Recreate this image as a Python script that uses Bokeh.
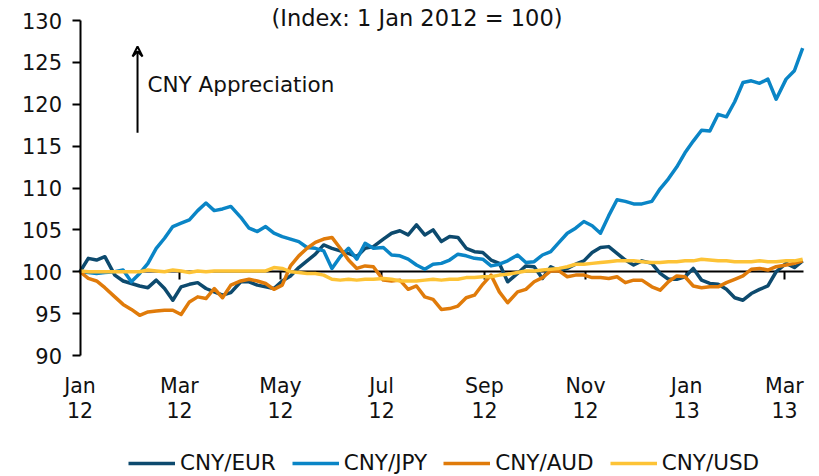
import pandas as pd
from bokeh.plotting import figure
from bokeh.models import (DatetimeAxis, LinearAxis, FixedTicker, Legend, LegendItem, Label,
                          Arrow, VeeHead, Range1d)
from bokeh.embed import file_html
from bokeh.resources import INLINE

dates = [
    "2012-01-01", "2012-01-06", "2012-01-11", "2012-01-16", "2012-01-22", "2012-01-27",
    "2012-02-01", "2012-02-06", "2012-02-11", "2012-02-16", "2012-02-21", "2012-02-26",
    "2012-03-02", "2012-03-07", "2012-03-12", "2012-03-17", "2012-03-22", "2012-03-27",
    "2012-04-01", "2012-04-07", "2012-04-12", "2012-04-17", "2012-04-22", "2012-04-27",
    "2012-05-02", "2012-05-07", "2012-05-12", "2012-05-17", "2012-05-22", "2012-05-27",
    "2012-06-01", "2012-06-06", "2012-06-11", "2012-06-16", "2012-06-21", "2012-06-26",
    "2012-07-02", "2012-07-07", "2012-07-12", "2012-07-17", "2012-07-22", "2012-07-27",
    "2012-08-01", "2012-08-06", "2012-08-11", "2012-08-16", "2012-08-21", "2012-08-26",
    "2012-08-31", "2012-09-05", "2012-09-10", "2012-09-15", "2012-09-21", "2012-09-26",
    "2012-10-01", "2012-10-06", "2012-10-11", "2012-10-16", "2012-10-21", "2012-10-26",
    "2012-10-31", "2012-11-05", "2012-11-10", "2012-11-15", "2012-11-20", "2012-11-25",
    "2012-11-30", "2012-12-05", "2012-12-11", "2012-12-16", "2012-12-21", "2012-12-26",
    "2012-12-31", "2013-01-05", "2013-01-10", "2013-01-15", "2013-01-20", "2013-01-25",
    "2013-01-30", "2013-02-04", "2013-02-09", "2013-02-14", "2013-02-19", "2013-02-24",
    "2013-03-02", "2013-03-07", "2013-03-12",
]

cny_eur = [
    100.0, 101.6, 101.4, 101.8, 99.6, 98.9, 98.6, 98.3, 98.1, 99.0, 98.0, 96.6,
    98.2, 98.5, 98.7, 98.0, 97.6, 97.2, 97.5, 98.8, 98.8, 98.4, 98.2, 98.0,
    98.9, 99.5, 100.5, 101.3, 102.1, 103.2, 102.8, 102.5, 102.2, 101.8, 102.8, 103.0,
    103.9, 104.6, 104.9, 104.4, 105.6, 104.4, 105.0, 103.6, 104.2, 104.1, 102.8, 102.4,
    102.3, 101.4, 101.0, 98.8, 99.8, 100.7, 100.6, 99.2, 100.6, 100.1, 100.4, 100.9,
    101.3, 102.3, 102.9, 103.0, 102.2, 101.4, 100.8, 101.3, 101.0, 99.8, 99.1, 99.1,
    99.4, 100.4, 99.0, 98.6, 98.5, 97.9, 96.9, 96.6, 97.4, 97.9, 98.3, 100.0,
    101.0, 100.5, 101.3,
]

cny_jpy = [
    100.0, 99.9, 99.8, 99.9, 100.0, 100.2, 98.8, 99.8, 101.0, 102.8, 104.0, 105.4,
    105.8, 106.2, 107.3, 108.2, 107.3, 107.5, 107.8, 106.5, 105.2, 104.8, 105.4, 104.6,
    104.2, 103.9, 103.6, 102.9, 102.8, 102.5, 100.4, 101.8, 102.8, 101.5, 103.4, 102.8,
    102.9, 102.0, 101.9, 101.5, 100.8, 100.3, 100.9, 101.0, 101.4, 102.1, 101.9, 101.6,
    101.5, 100.7, 100.9, 101.3, 102.0, 101.1, 101.2, 102.0, 102.4, 103.5, 104.6, 105.2,
    106.0, 105.5, 104.6, 106.7, 108.6, 108.4, 108.1, 108.1, 108.4, 109.9, 111.1, 112.5,
    114.2, 115.6, 116.9, 116.8, 118.8, 118.5, 120.3, 122.6, 122.8, 122.5, 123.0, 120.6,
    123.0, 124.0, 126.7,
]

cny_aud = [
    100.0, 99.2, 98.9, 98.1, 97.0, 96.1, 95.5, 94.8, 95.2, 95.3, 95.4, 95.4,
    94.9, 96.4, 97.0, 96.8, 98.0, 96.9, 98.4, 98.9, 99.1, 98.9, 98.6, 97.9,
    98.4, 100.7, 101.9, 102.8, 103.5, 103.9, 104.1, 102.8, 101.4, 100.4, 100.7, 100.6,
    99.0, 98.9, 99.0, 97.9, 98.3, 97.0, 96.7, 95.5, 95.6, 95.9, 96.9, 97.2,
    98.5, 99.6, 97.6, 96.3, 97.6, 97.9, 98.8, 99.3, 100.1, 100.1, 99.4, 99.6,
    99.6, 99.3, 99.3, 99.2, 99.4, 98.7, 99.0, 99.0, 98.2, 97.8, 98.8, 99.5,
    99.4, 98.3, 98.1, 98.2, 98.2, 98.7, 99.1, 99.5, 100.3, 100.4, 100.2, 100.6,
    100.8, 101.0, 101.3,
]

cny_usd = [
    100.1, 100.0, 100.0, 100.0, 100.0, 100.0, 100.0, 100.0, 100.2, 100.1, 100.0, 100.2,
    100.1, 99.9, 100.1, 100.0, 100.1, 100.1, 100.1, 100.1, 100.1, 100.1, 100.1, 100.5,
    100.4, 100.0, 99.9, 99.8, 99.8, 99.6, 99.1, 99.0, 99.1, 99.0, 99.1, 99.1,
    99.2, 99.1, 98.9, 98.9, 98.9, 99.0, 99.1, 99.0, 99.1, 99.1, 99.3, 99.3,
    99.4, 99.4, 99.6, 99.7, 99.9, 100.1, 100.1, 100.2, 100.3, 100.4, 100.6, 100.9,
    100.9, 101.0, 101.1, 101.2, 101.3, 101.3, 101.3, 101.2, 101.1, 101.1, 101.2, 101.2,
    101.3, 101.3, 101.5, 101.4, 101.3, 101.3, 101.2, 101.2, 101.2, 101.3, 101.2, 101.2,
    101.3, 101.3, 101.5,
]

series_names = ["CNY/EUR", "CNY/JPY", "CNY/AUD", "CNY/USD"]
series_colors = ["#0d4a6e", "#0a85c6", "#e07b0a", "#fdc336"]

tick_dates = ["2012-01-01", "2012-03-01", "2012-05-01", "2012-07-01", "2012-09-01",
              "2012-11-01", "2013-01-01", "2013-03-01"]
tick_labels = ["Jan\n12", "Mar\n12", "May\n12", "Jul\n12", "Sep\n12", "Nov\n12",
               "Jan\n13", "Mar\n13"]
y_ticks = [90, 95, 100, 105, 110, 115, 120, 125, 130]
y_min, y_max = 90, 130
x_start, x_end = "2012-01-01", "2013-03-12 12:00"

title_text = "(Index: 1 Jan 2012 = 100)"
note_text = "CNY Appreciation"

FONT = "DejaVu Sans"
TXT = "#111111"
x = pd.to_datetime(dates)

# The frame covers the whole canvas; axes are placed at fixed data locations.
W, H = 819, 476
PLOT_L, PLOT_R, PLOT_T, PLOT_B = 79.5, 803, 20, 355
PX_PER_DAY = (PLOT_R - PLOT_L) / ((pd.Timestamp(x_end) - pd.Timestamp(x_start)).total_seconds() / 86400)
PX_PER_UNIT = (PLOT_B - PLOT_T) / (y_max - y_min)
xr = Range1d(pd.Timestamp(x_start) - pd.Timedelta(days=PLOT_L / PX_PER_DAY),
             pd.Timestamp(x_end) + pd.Timedelta(days=(W - PLOT_R) / PX_PER_DAY))
yr = Range1d(y_min - (H - PLOT_B) / PX_PER_UNIT, y_max + PLOT_T / PX_PER_UNIT)

p = figure(width=W, height=H, x_axis_type="datetime", x_axis_location=None,
           y_axis_location=None, output_backend="svg", toolbar_location=None,
           x_range=xr, y_range=yr,
           min_border_left=0, min_border_right=0, min_border_top=0, min_border_bottom=0)
p.outline_line_color = None
p.xgrid.visible = False
p.ygrid.visible = False
p.background_fill_color = "white"
p.border_fill_color = "white"

tick_ms = [pd.Timestamp(d).value / 1e6 for d in tick_dates]
x0_ms = pd.Timestamp(x_start).value / 1e6

# date labels under the value-axis bottom (90)
xa = DatetimeAxis(fixed_location=y_min, ticker=FixedTicker(ticks=tick_ms),
                  major_label_overrides={t: lab for t, lab in zip(tick_ms, tick_labels)},
                  axis_line_color=None, major_tick_line_color=None,
                  minor_tick_line_color=None, major_tick_out=0, major_tick_in=0,
                  major_label_standoff=18, major_label_text_font=FONT,
                  major_label_text_font_size="20.5px", major_label_text_color=TXT,
                  major_label_text_line_height=1.06)
p.add_layout(xa, "below")

# axis line through 100 with tick marks
ax100 = DatetimeAxis(fixed_location=100, ticker=FixedTicker(ticks=tick_ms[1:]),
                     bounds=(pd.Timestamp(x_start), pd.Timestamp(x_end)),
                     axis_line_color="black", axis_line_width=2,
                     major_tick_line_color="black", major_tick_line_width=2,
                     major_tick_out=8, major_tick_in=0,
                     minor_tick_line_color=None,
                     major_label_overrides={t: "" for t in tick_ms[1:]},
                     major_label_standoff=0)
ax100.level = "underlay"
p.add_layout(ax100, "below")

# value axis at 1 Jan 2012
ya = LinearAxis(fixed_location=x0_ms, bounds=(y_min, y_max),
                ticker=FixedTicker(ticks=y_ticks),
                axis_line_color="black", axis_line_width=2,
                major_tick_line_color="black", major_tick_line_width=2,
                major_tick_out=8, major_tick_in=0, minor_tick_line_color=None,
                major_label_standoff=10, major_label_text_font=FONT,
                major_label_text_font_size="21px", major_label_text_color=TXT)
p.add_layout(ya, "left")

renderers = []
for vals, name, col in zip([cny_eur, cny_jpy, cny_aud, cny_usd], series_names, series_colors):
    r = p.line(x, vals, line_color=col, line_width=3.5, line_join="round")
    renderers.append(r)

legend = Legend(items=[LegendItem(label=n, renderers=[r]) for n, r in zip(series_names, renderers)],
                orientation="horizontal", location=(128, 1),
                glyph_width=47, glyph_height=20, label_standoff=5, spacing=16,
                padding=0, margin=0, border_line_color=None, background_fill_alpha=0,
                label_text_font=FONT, label_text_font_size="21.5px",
                label_text_color=TXT)
p.add_layout(legend)

p.add_layout(Arrow(end=VeeHead(size=10, line_width=2, line_color="black", fill_color=None),
                   x_start=pd.Timestamp("2012-02-04 17:00"), y_start=116.6,
                   x_end=pd.Timestamp("2012-02-04 17:00"), y_end=126.9,
                   line_width=2, line_color="black"))

p.add_layout(Label(x=pd.Timestamp("2012-02-10 17:00"), y=122.4, text=note_text,
                   text_font=FONT, text_font_size="21.5px", text_color=TXT,
                   text_baseline="alphabetic", text_align="left"))

p.add_layout(Label(x=pd.Timestamp("2012-07-22 08:00"), y=130.24, text=title_text,
                   text_font=FONT, text_font_size="22.5px", text_color=TXT,
                   text_baseline="alphabetic", text_align="center"))

open("out.html", "w").write(file_html(p, INLINE))
